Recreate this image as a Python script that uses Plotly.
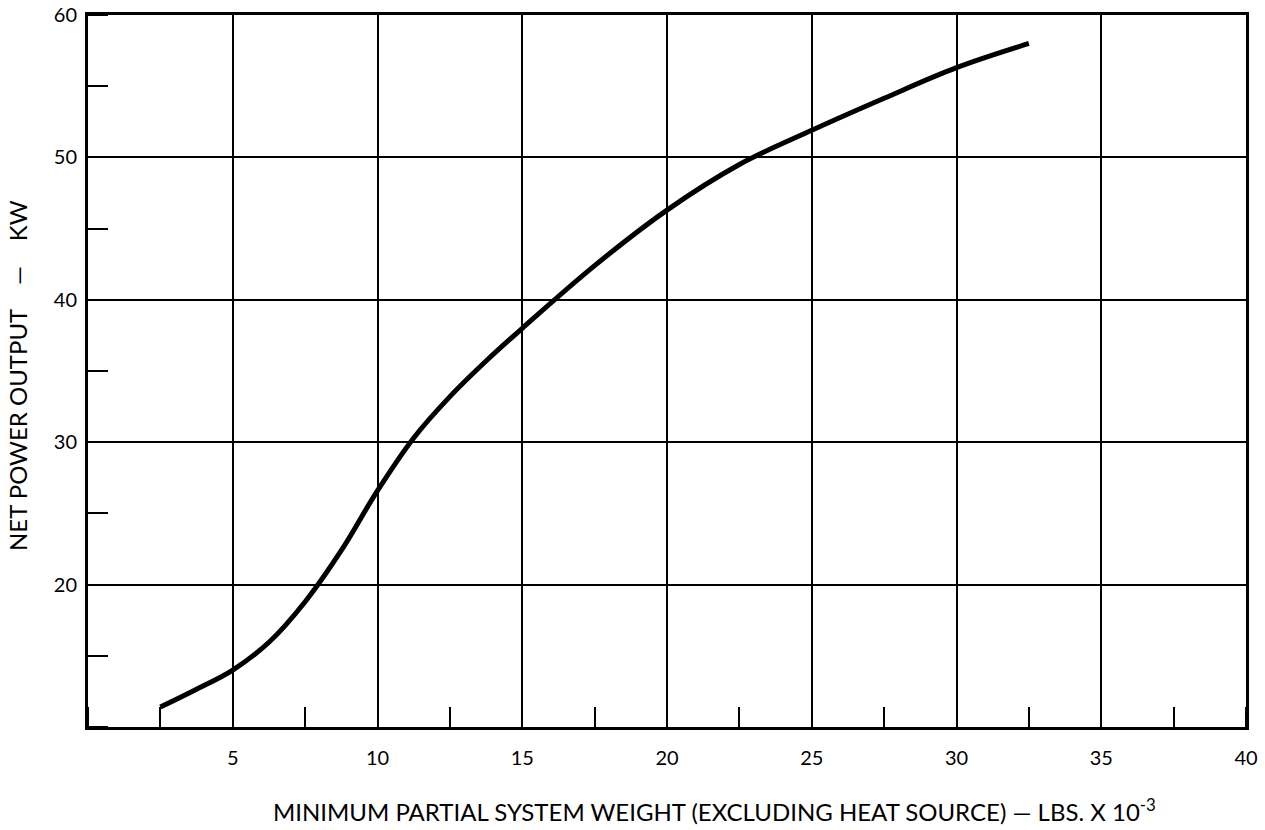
import plotly.graph_objects as go

# Data
weight_klbs = [2.5, 3.75, 5.0, 6.25, 7.5, 8.75, 10.0, 11.25, 12.5, 13.75, 15.0,
               17.5, 20.0, 22.5, 25.0, 27.5, 30.0, 32.5]
power_kw = [11.4, 12.65, 14.0, 15.95, 18.8, 22.4, 26.6, 30.3, 33.2, 35.7, 38.0,
            42.4, 46.3, 49.5, 51.9, 54.15, 56.3, 58.0]

x_ticks = [5, 10, 15, 20, 25, 30, 35, 40]
y_ticks = [20, 30, 40, 50, 60]

x_title = "MINIMUM PARTIAL SYSTEM WEIGHT (EXCLUDING HEAT SOURCE) \u2014 LBS. X 10<sup>-3</sup>"
y_title = "NET POWER OUTPUT\u00a0\u00a0\u00a0\u00a0\u2014\u00a0\u00a0\u00a0\u00a0KW"

FONT = "Lato"

fig = go.Figure()
fig.add_trace(go.Scatter(
    x=weight_klbs, y=power_kw, mode="lines",
    line=dict(color="black", width=5, shape="spline", smoothing=1.0),
    showlegend=False, hoverinfo="skip",
))

axis_common = dict(
    showgrid=True, gridcolor="black", gridwidth=2,
    showline=True, linecolor="black", linewidth=3, mirror=True,
    zeroline=False, ticks="", automargin=False,
    tickfont=dict(family=FONT, size=20, color="black"),
)

fig.update_xaxes(
    range=[0, 40], tickvals=x_ticks, ticktext=[str(v) for v in x_ticks],
    ticklabelstandoff=11,
    minor=dict(tick0=0, dtick=2.5, ticks="inside", ticklen=20, tickwidth=2,
               tickcolor="black", showgrid=False),
    **axis_common,
)
fig.update_yaxes(
    range=[10, 60], tickvals=y_ticks, ticktext=[str(v) for v in y_ticks],
    ticklabelstandoff=4,
    minor=dict(tick0=10, dtick=5, ticks="inside", ticklen=20, tickwidth=2,
               tickcolor="black", showgrid=False),
    **axis_common,
)

fig.update_layout(
    width=1265, height=830,
    margin=dict(l=88, r=19, t=15, b=103),
    paper_bgcolor="white", plot_bgcolor="white",
    font=dict(family=FONT, color="black"),
    annotations=[
        dict(text=x_title, xref="paper", yref="paper", x=0.158, y=-0.117,
             xanchor="left", yanchor="middle", showarrow=False,
             font=dict(family=FONT, size=24, color="black")),
        dict(text=y_title, xref="paper", yref="paper", x=-0.0615, y=0.494,
             xanchor="center", yanchor="middle", showarrow=False, textangle=-90,
             font=dict(family=FONT, size=24, color="black")),
    ],
)

fig.write_html("out.html")
